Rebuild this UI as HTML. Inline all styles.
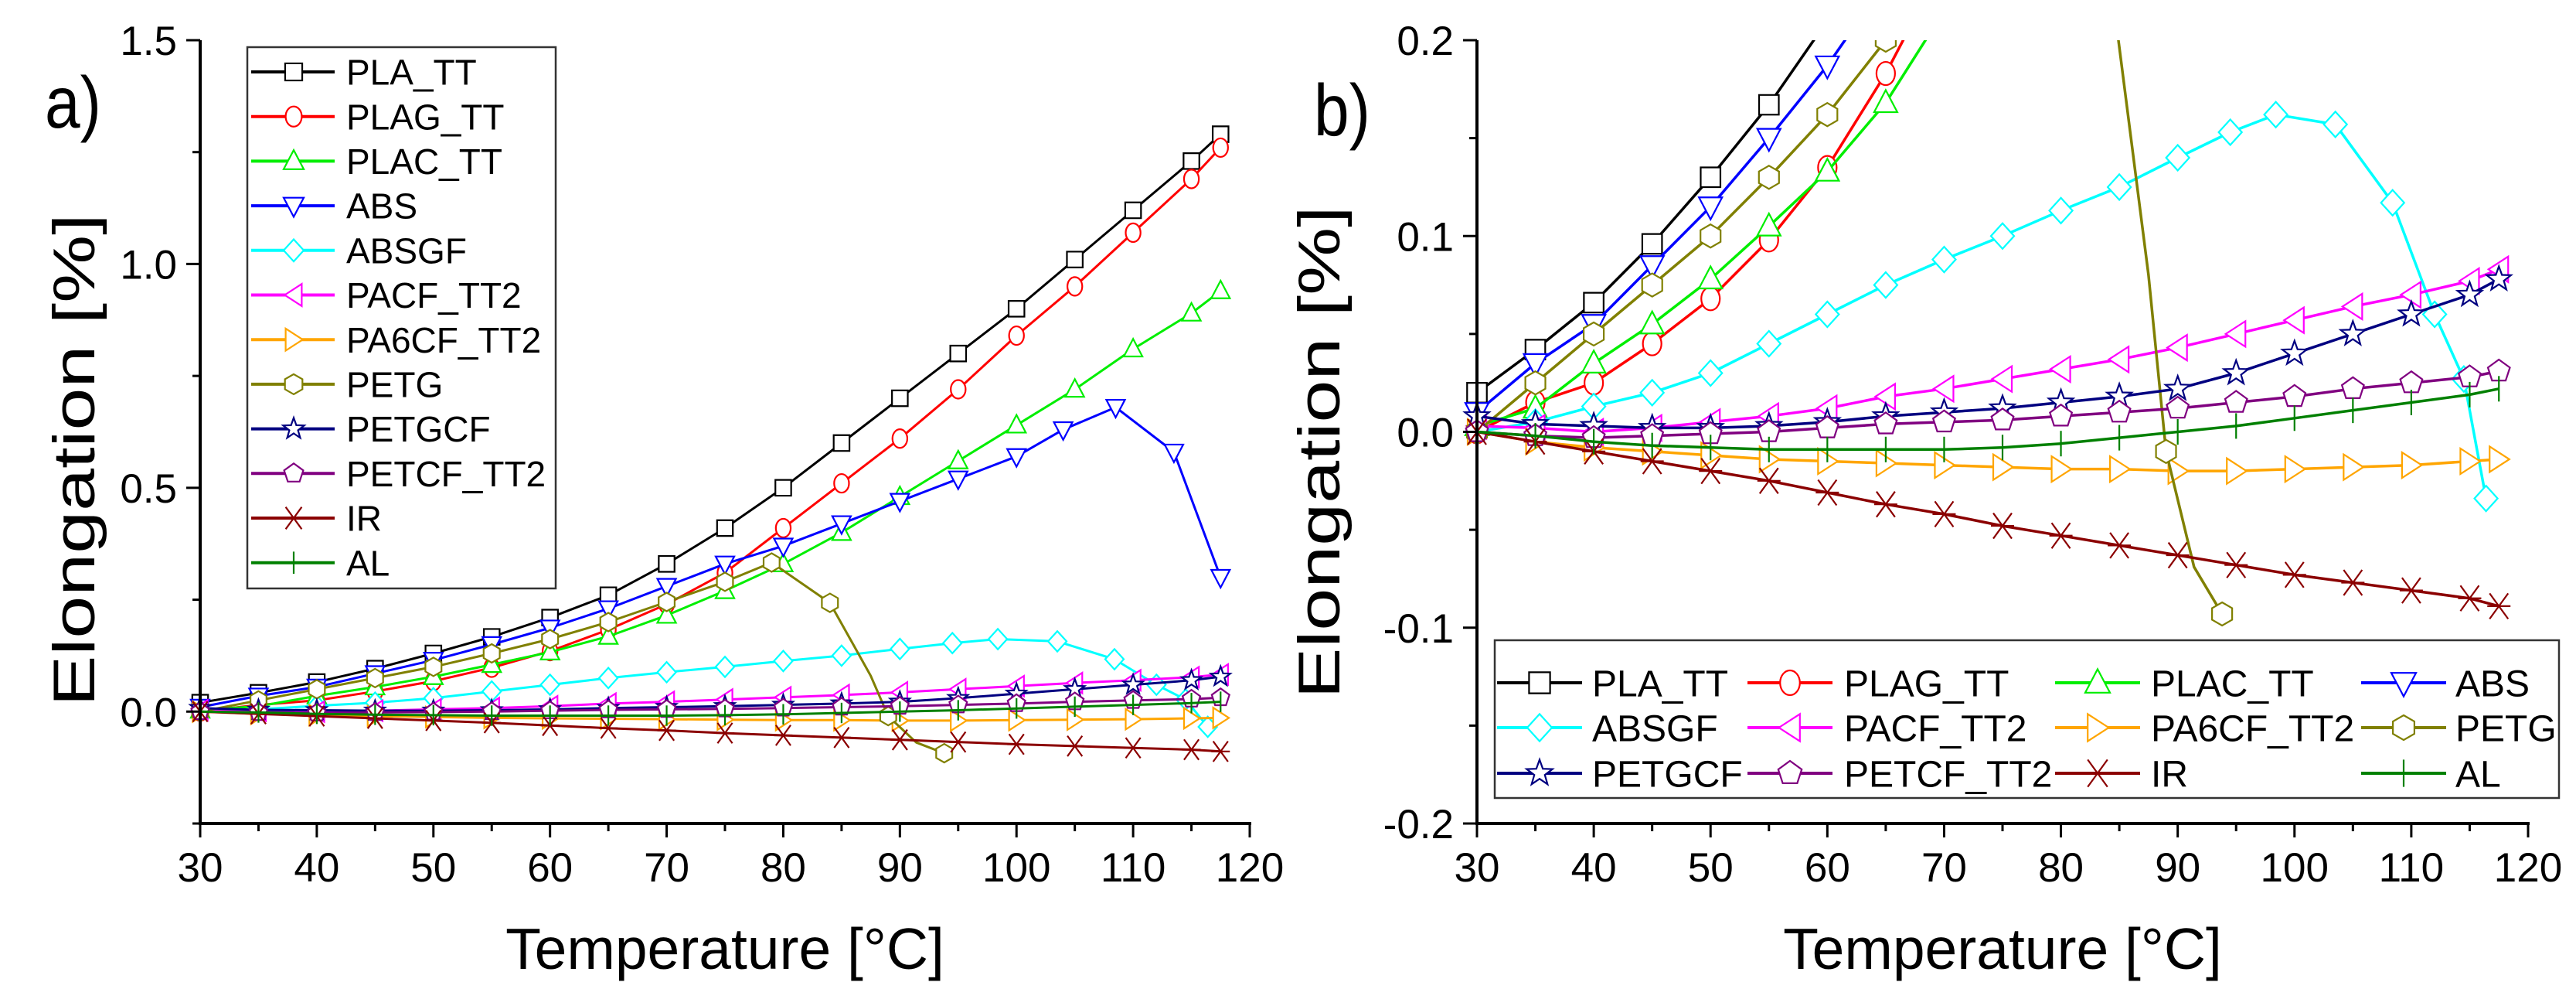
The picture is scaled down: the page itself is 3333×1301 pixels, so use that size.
<!DOCTYPE html>
<html><head><meta charset="utf-8">
<style>
html,body{margin:0;padding:0;background:#fff;}
svg{display:block;font-family:"Liberation Sans",Arial,sans-serif;}
</style></head>
<body>
<svg id="chart" width="3333" height="1301" viewBox="0 0 3333 1301" xmlns="http://www.w3.org/2000/svg">
<defs>
<clipPath id="clipA"><rect x="150" y="40" width="1480" height="1030"/></clipPath>
<clipPath id="clipB"><rect x="1880" y="52" width="1420" height="1016"/></clipPath>
</defs>
<g id="panelA"></g>
<g id="panelB"></g>
</svg>
<script>
// ---- data ----
const seriesNames = ["PLA_TT","PLAG_TT","PLAC_TT","ABS","ABSGF","PACF_TT2","PA6CF_TT2","PETG","PETGCF","PETCF_TT2","IR","AL"];
const seriesColors = ["#000000","#ff0000","#00ee00","#0000ff","#00ffff","#ff00ff","#ffa500","#808000","#000080","#800080","#8b0000","#008000"];
const seriesMarkers = ["square","circle","triUp","triDown","diamond","triLeft","triRight","hexagon","star","pentagon","cross","plus"];
const tempStd = [30,35,40,45,50,55,60,65,70,75,80,85,90,95,100,105,110,115,117.5];
const plaTT = [0.02,0.042,0.066,0.096,0.13,0.167,0.21,0.26,0.33,0.41,0.5,0.6,0.7,0.8,0.9,1.01,1.12,1.23,1.29];
const plagTT = [0.0,0.015,0.025,0.045,0.068,0.098,0.135,0.183,0.24,0.31,0.41,0.51,0.61,0.72,0.84,0.95,1.07,1.19,1.26];
const placTT = [0.003,0.012,0.035,0.055,0.078,0.105,0.133,0.168,0.215,0.27,0.33,0.4,0.48,0.56,0.64,0.72,0.81,0.89,0.94];
const absTemp = [30,35,40,45,50,55,60,65,70,75,80,85,90,95,100,104,108.5,113.5,117.5];
const absVals = [0.01,0.035,0.055,0.085,0.115,0.15,0.187,0.23,0.28,0.33,0.37,0.42,0.47,0.52,0.57,0.63,0.68,0.58,0.30];
const absgfTemp = [30,35,40,45,50,55,60,65,70,75,80,85,90,94.5,98.4,103.5,108.4,112,114.5,116.4];
const absgfVals = [0.0,0.005,0.013,0.02,0.03,0.045,0.06,0.075,0.088,0.1,0.113,0.125,0.14,0.153,0.162,0.157,0.117,0.06,0.027,-0.034];
const pacfVals = [0.003,0.002,0.0,0.002,0.005,0.008,0.012,0.018,0.022,0.027,0.032,0.037,0.043,0.05,0.057,0.064,0.07,0.077,0.083];
const pa6cfVals = [0.0,-0.005,-0.008,-0.01,-0.012,-0.014,-0.015,-0.016,-0.017,-0.018,-0.019,-0.019,-0.02,-0.02,-0.019,-0.018,-0.017,-0.015,-0.014];
const petgTemp = [30,35,40,45,50,55,60,65,70,75,79,84,86,87.5,89,91.4,93.8];
const petgVals = [0.0,0.025,0.05,0.075,0.1,0.13,0.162,0.2,0.245,0.29,0.333,0.243,0.15,0.08,-0.01,-0.069,-0.093];
const petgMarked = [1,1,1,1,1,1,1,1,1,1,1,1,0,0,1,0,1];
const petgcfVals = [0.008,0.004,0.003,0.002,0.002,0.003,0.005,0.008,0.01,0.012,0.015,0.018,0.022,0.03,0.04,0.05,0.06,0.07,0.078];
const petcfVals = [0.0,-0.002,-0.003,-0.002,-0.001,0.0,0.002,0.004,0.005,0.006,0.008,0.01,0.012,0.015,0.018,0.022,0.025,0.028,0.031];
const irVals = [0.0,-0.005,-0.01,-0.015,-0.02,-0.025,-0.031,-0.037,-0.042,-0.048,-0.053,-0.058,-0.063,-0.068,-0.073,-0.077,-0.081,-0.085,-0.089];
const alVals = [0.0,-0.002,-0.005,-0.007,-0.008,-0.009,-0.009,-0.009,-0.009,-0.008,-0.006,-0.003,0.0,0.003,0.007,0.011,0.015,0.019,0.022];
const xTicks = [30,40,50,60,70,80,90,100,110,120];
const yTicksA = ["0.0","0.5","1.0","1.5"];
const yTicksB = ["-0.2","-0.1","0.0","0.1","0.2"];

const seriesX = [tempStd,tempStd,tempStd,absTemp,absgfTemp,tempStd,tempStd,petgTemp,tempStd,tempStd,tempStd,tempStd];
const seriesY = [plaTT,plagTT,placTT,absVals,absgfVals,pacfVals,pa6cfVals,petgVals,petgcfVals,petcfVals,irVals,alVals];

const NS="http://www.w3.org/2000/svg";
function mk(tag,attrs,parent){const e=document.createElementNS(NS,tag);for(const k in attrs)e.setAttribute(k,attrs[k]);if(parent)parent.appendChild(e);return e;}

function markerPath(type,cx,cy,r){
  const poly=(n,rot,rr)=>{const pts=[];for(let i=0;i<n;i++){const a=rot+i*2*Math.PI/n;pts.push([cx+rr*Math.cos(a),cy+rr*Math.sin(a)]);}return "M"+pts.map(q=>q[0].toFixed(1)+","+q[1].toFixed(1)).join("L")+"Z";};
  switch(type){
    case "square": return `M${cx-r*0.85},${cy-r*0.85}h${1.7*r}v${1.7*r}h${-1.7*r}Z`;
    case "circle": return `M${cx-r*0.8},${cy}a${r*0.8},${r} 0 1,0 ${1.6*r},0a${r*0.8},${r} 0 1,0 ${-1.6*r},0Z`;
    case "triUp": return `M${cx},${cy-r*1.1}L${cx+r},${cy+r*0.8}L${cx-r},${cy+r*0.8}Z`;
    case "triDown": return `M${cx},${cy+r*1.1}L${cx+r},${cy-r*0.8}L${cx-r},${cy-r*0.8}Z`;
    case "triLeft": return `M${cx-r*0.9},${cy}L${cx+r*0.8},${cy-r*1.1}L${cx+r*0.8},${cy+r*1.1}Z`;
    case "triRight": return `M${cx+r*0.9},${cy}L${cx-r*0.8},${cy-r*1.1}L${cx-r*0.8},${cy+r*1.1}Z`;
    case "diamond": return `M${cx},${cy-r*1.1}L${cx+r},${cy}L${cx},${cy+r*1.1}L${cx-r},${cy}Z`;
    case "hexagon": return poly(6,-Math.PI/2,r);
    case "pentagon": return poly(5,-Math.PI/2,r);
    case "star": {const pts=[];for(let i=0;i<10;i++){const a=-Math.PI/2+i*Math.PI/5;const rr=i%2?r*0.45:r*1.1;pts.push([cx+rr*Math.cos(a),cy+rr*Math.sin(a)]);}return "M"+pts.map(q=>q[0].toFixed(1)+","+q[1].toFixed(1)).join("L")+"Z";}
    case "cross": return `M${cx-r*0.8},${cy-r*1.1}L${cx+r*0.8},${cy+r*1.1}M${cx+r*0.8},${cy-r*1.1}L${cx-r*0.8},${cy+r*1.1}M${cx-r},${cy}L${cx+r},${cy}`;
    case "plus": return `M${cx},${cy-r*1.1}L${cx},${cy+r*1.1}`;
  }
}

function drawPanel(g,cfg){
  const X=v=>cfg.x0+(v-30)/90*(cfg.x1-cfg.x0);
  const Y=v=>cfg.yBot-(v-cfg.ymin)/(cfg.ymax-cfg.ymin)*(cfg.yBot-cfg.yTop);
  const plot=mk("g",{"clip-path":cfg.clip},g);
  
  
  for(let s=0;s<seriesNames.length;s++){
    const sg=mk("g",{},plot);
    
    
    const xs=seriesX[s], ys=seriesY[s];
    let d="";
    for(let i=0;i<xs.length;i++) d+=(i?"L":"M")+X(xs[i]).toFixed(1)+","+Y(ys[i]).toFixed(1);
    const ln=mk("path",{d:d,fill:"none",stroke:seriesColors[s],"stroke-width":cfg.lw,"stroke-linejoin":"round"},sg);
    
    
    for(let i=0;i<xs.length;i++){
      if(s===7 && !petgMarked[i]) continue;
      const m=mk("path",{d:markerPath(seriesMarkers[s],X(xs[i]),Y(ys[i]),cfg.mr),fill:(seriesMarkers[s]==="cross"||seriesMarkers[s]==="plus")?"none":"#fff",stroke:seriesColors[s],"stroke-width":2.2},sg);
      
      
    }
  }
  const ax=mk("g",{stroke:"#000","stroke-width":4},g);
  
  
  mk("line",{x1:cfg.x0,y1:cfg.yTop,x2:cfg.x0,y2:cfg.yBot+2},ax);
  mk("line",{x1:cfg.x0-2,y1:cfg.yBot,x2:cfg.x1+2,y2:cfg.yBot},ax);
  for(let t=30;t<=120;t+=5){
    const maj=t%10===0;
    mk("line",{x1:X(t),y1:cfg.yBot,x2:X(t),y2:cfg.yBot+(maj?18:10),"stroke-width":3},ax);
  }
  xTicks.forEach(t=>{
    const tx=mk("text",{x:X(t),y:1140,"font-size":53,"text-anchor":"middle",fill:"#000",stroke:"none"},g);
    tx.textContent=t;
    
    
  });
  for(let v=cfg.ymin;v<=cfg.ymax+1e-9;v+=cfg.minor){
    const maj=Math.abs(v/cfg.major-Math.round(v/cfg.major))<1e-6;
    mk("line",{x1:cfg.x0-(maj?18:10),y1:Y(v),x2:cfg.x0,y2:Y(v),"stroke-width":3},ax);
  }
  cfg.yLabels.forEach(l=>{
    const tx=mk("text",{x:cfg.x0-30,y:Y(parseFloat(l))+19,"font-size":53,"text-anchor":"end",fill:"#000"},g);
    tx.textContent=l;
    
    
  });
  const xt=mk("text",{x:(cfg.x0+cfg.x1)/2,y:1253,"font-size":75,"text-anchor":"middle",fill:"#000"},g);
  xt.textContent="Temperature [°C]";
  
  
  const yt=mk("text",{x:0,y:0,"font-size":76,"text-anchor":"middle",fill:"#000",transform:`translate(${cfg.ytx},${cfg.yty}) rotate(-90) scale(1.3,1)`},g);
  yt.textContent="Elongation [%]";
  
  
  const pl=mk("text",{x:0,y:0,"font-size":82,fill:"#000",transform:`translate(${cfg.plx},${cfg.ply}) scale(1,1.15)`},g);
  pl.textContent=cfg.panelLabel;
  
  
}

function legendEntry(g,s,cx,cy,x0,x1,tx,fs,r){
  const eg=mk("g",{},g);
  
  
  mk("line",{x1:x0,y1:cy,x2:x1,y2:cy,stroke:seriesColors[s],"stroke-width":4},eg);
  mk("path",{d:markerPath(seriesMarkers[s],cx,cy,r),fill:(seriesMarkers[s]==="cross"||seriesMarkers[s]==="plus")?"none":"#fff",stroke:seriesColors[s],"stroke-width":2.2},eg);
  const t=mk("text",{x:tx,y:cy+fs*0.36,"font-size":fs,fill:"#000"},eg);
  t.textContent=seriesNames[s];
}

const gA=document.getElementById("panelA"), gB=document.getElementById("panelB");
drawPanel(gA,{x0:259,x1:1617,yTop:52,yBot:1065,ymin:-0.25,ymax:1.5,major:0.5,minor:0.25,yLabels:yTicksA,clip:"url(#clipA)",lw:3,mr:12,ytx:122,yty:595,plx:58,ply:165,panelLabel:"a)"});
drawPanel(gB,{x0:1911,x1:3271,yTop:52,yBot:1065,ymin:-0.2,ymax:0.2,major:0.1,minor:0.05,yLabels:yTicksB,clip:"url(#clipB)",lw:3.5,mr:15,ytx:1733,yty:585,plx:1700,ply:175,panelLabel:"b)"});

const legA=mk("g",{},gA);


mk("rect",{x:320,y:61,width:399,height:700,fill:"#fff",stroke:"#333","stroke-width":2.5},legA);
for(let s=0;s<12;s++) legendEntry(legA,s,380,93+s*57.7,325,433,448,46,13);

const legB=mk("g",{},gB);


mk("rect",{x:1934,y:828,width:1377,height:204,fill:"#fff",stroke:"#333","stroke-width":2.5},legB);
const colMx=[1992,2316,2714,3110], colTx=[2060,2386,2783,3177], rowY=[883,941,1000];
for(let s=0;s<12;s++){
  const c=s%4,r=Math.floor(s/4);
  legendEntry(legB,s,colMx[c],rowY[r],colMx[c]-55,colMx[c]+55,colTx[c],48,16);
}
</script>
</body></html>
